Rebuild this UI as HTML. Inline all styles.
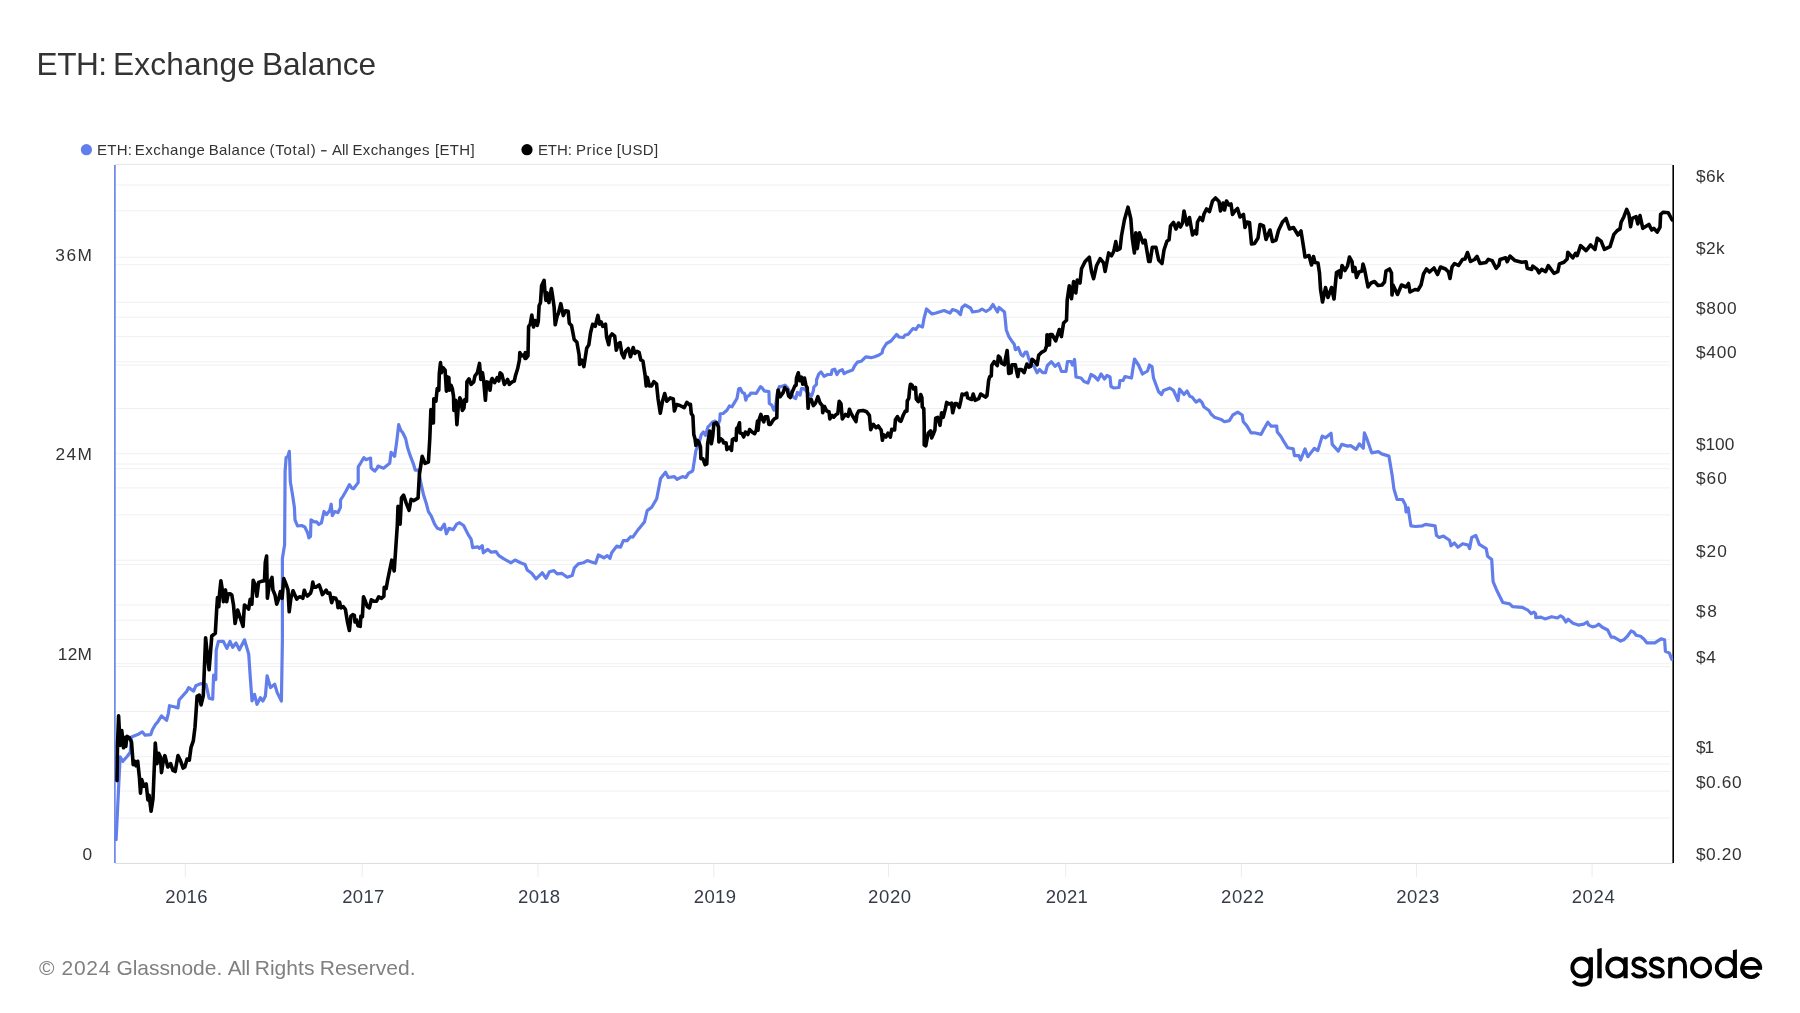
<!DOCTYPE html>
<html><head><meta charset="utf-8"><title>ETH: Exchange Balance</title>
<style>
html,body{margin:0;padding:0;background:#fff;}
body{width:1800px;height:1013px;position:relative;overflow:hidden;font-family:"Liberation Sans",sans-serif;}
</style></head><body>
<svg width="1800" height="1013" viewBox="0 0 1800 1013" style="position:absolute;left:0;top:0;will-change:transform">
<line x1="115" y1="185" x2="1670" y2="185" stroke="#f0f0f0" stroke-width="1"/>
<line x1="115" y1="210.8" x2="1670" y2="210.8" stroke="#f0f0f0" stroke-width="1"/>
<line x1="115" y1="257.2" x2="1670" y2="257.2" stroke="#f0f0f0" stroke-width="1"/>
<line x1="115" y1="264.7" x2="1670" y2="264.7" stroke="#f0f0f0" stroke-width="1"/>
<line x1="115" y1="302.2" x2="1670" y2="302.2" stroke="#f0f0f0" stroke-width="1"/>
<line x1="115" y1="317.2" x2="1670" y2="317.2" stroke="#f0f0f0" stroke-width="1"/>
<line x1="115" y1="336.6" x2="1670" y2="336.6" stroke="#f0f0f0" stroke-width="1"/>
<line x1="115" y1="361.8" x2="1670" y2="361.8" stroke="#f0f0f0" stroke-width="1"/>
<line x1="115" y1="365" x2="1670" y2="365" stroke="#f0f0f0" stroke-width="1"/>
<line x1="115" y1="408.5" x2="1670" y2="408.5" stroke="#f0f0f0" stroke-width="1"/>
<line x1="115" y1="453.7" x2="1670" y2="453.7" stroke="#f0f0f0" stroke-width="1"/>
<line x1="115" y1="464" x2="1670" y2="464" stroke="#f0f0f0" stroke-width="1"/>
<line x1="115" y1="468.7" x2="1670" y2="468.7" stroke="#f0f0f0" stroke-width="1"/>
<line x1="115" y1="487.9" x2="1670" y2="487.9" stroke="#f0f0f0" stroke-width="1"/>
<line x1="115" y1="514.9" x2="1670" y2="514.9" stroke="#f0f0f0" stroke-width="1"/>
<line x1="115" y1="560.2" x2="1670" y2="560.2" stroke="#f0f0f0" stroke-width="1"/>
<line x1="115" y1="564.5" x2="1670" y2="564.5" stroke="#f0f0f0" stroke-width="1"/>
<line x1="115" y1="605" x2="1670" y2="605" stroke="#f0f0f0" stroke-width="1"/>
<line x1="115" y1="620.2" x2="1670" y2="620.2" stroke="#f0f0f0" stroke-width="1"/>
<line x1="115" y1="639.5" x2="1670" y2="639.5" stroke="#f0f0f0" stroke-width="1"/>
<line x1="115" y1="663.7" x2="1670" y2="663.7" stroke="#f0f0f0" stroke-width="1"/>
<line x1="115" y1="666.6" x2="1670" y2="666.6" stroke="#f0f0f0" stroke-width="1"/>
<line x1="115" y1="711.5" x2="1670" y2="711.5" stroke="#f0f0f0" stroke-width="1"/>
<line x1="115" y1="756.6" x2="1670" y2="756.6" stroke="#f0f0f0" stroke-width="1"/>
<line x1="115" y1="764" x2="1670" y2="764" stroke="#f0f0f0" stroke-width="1"/>
<line x1="115" y1="771.4" x2="1670" y2="771.4" stroke="#f0f0f0" stroke-width="1"/>
<line x1="115" y1="791" x2="1670" y2="791" stroke="#f0f0f0" stroke-width="1"/>
<line x1="115" y1="818" x2="1670" y2="818" stroke="#f0f0f0" stroke-width="1"/>
<line x1="115" y1="164.4" x2="1673" y2="164.4" stroke="#e6e6e6" stroke-width="1"/>
<line x1="115" y1="863.4" x2="1673" y2="863.4" stroke="#dcdcdc" stroke-width="1"/>
<line x1="185.3" y1="863.4" x2="185.3" y2="877" stroke="#ececec" stroke-width="1"/>
<line x1="362.2" y1="863.4" x2="362.2" y2="877" stroke="#ececec" stroke-width="1"/>
<line x1="538.0" y1="863.4" x2="538.0" y2="877" stroke="#ececec" stroke-width="1"/>
<line x1="713.8" y1="863.4" x2="713.8" y2="877" stroke="#ececec" stroke-width="1"/>
<line x1="888.5" y1="863.4" x2="888.5" y2="877" stroke="#ececec" stroke-width="1"/>
<line x1="1065.7" y1="863.4" x2="1065.7" y2="877" stroke="#ececec" stroke-width="1"/>
<line x1="1241.4" y1="863.4" x2="1241.4" y2="877" stroke="#ececec" stroke-width="1"/>
<line x1="1416.6" y1="863.4" x2="1416.6" y2="877" stroke="#ececec" stroke-width="1"/>
<line x1="1592.1" y1="863.4" x2="1592.1" y2="877" stroke="#ececec" stroke-width="1"/>
<line x1="114.9" y1="165" x2="114.9" y2="863" stroke="#627eea" stroke-width="1.6"/>
<line x1="1673.2" y1="165" x2="1673.2" y2="863" stroke="#000" stroke-width="1.6"/>
<polyline fill="none" stroke="#627eea" stroke-width="3.2" stroke-linejoin="round" stroke-linecap="round" points="115.9,839.0 116.1,839.6 120.1,756.8 122.9,761.3 126.9,756.8 130.3,752.2 131.5,736.9 137.7,734.6 142.2,731.8 145.1,735.2 150.8,734.6 152.5,729.5 155.9,723.8 157.6,722.1 161.5,715.9 166.6,720.4 168.3,713.6 169.5,705.7 174.0,706.8 178.0,707.9 179.1,700.0 186.9,691.1 188.7,687.6 193.6,691.1 195.8,685.8 201.1,683.6 206.0,684.4 209.1,698.2 212.7,699.1 213.6,675.1 215.8,679.6 216.2,650.2 218.4,641.3 223.3,641.3 226.9,648.4 230.0,641.3 232.7,647.3 236.0,643.0 239.4,649.8 244.5,639.8 248.7,654.0 250.3,677.5 252.0,701.0 254.5,694.3 257.0,704.4 260.4,697.7 262.9,701.0 265.4,696.0 267.1,675.8 270.5,687.6 274.7,684.2 277.2,692.6 281.4,701.0 282.4,640.0 282.4,558.5 284.3,546.6 284.6,545.0 285.1,471.1 286.1,457.6 287.7,456.6 289.3,451.4 289.8,463.8 290.3,481.5 292.4,493.9 294.4,507.4 295.0,519.8 297.5,526.0 301.7,525.5 304.8,527.0 307.4,532.2 308.9,537.9 310.5,536.4 311.0,519.8 314.1,521.9 316.7,521.9 318.8,524.5 321.4,522.9 324.0,511.5 326.6,514.6 329.7,510.5 331.2,504.2 332.3,515.6 334.8,511.5 338.0,512.5 340.5,507.4 340.5,500.1 343.1,496.0 346.2,490.8 349.4,484.6 351.4,487.7 353.5,488.7 356.6,484.6 358.2,482.5 358.2,466.9 360.8,462.8 363.9,457.6 365.9,459.7 370.6,458.1 371.1,468.0 374.7,471.1 377.3,468.0 378.0,466.1 383.5,468.2 389.7,463.3 391.1,452.3 394.6,456.4 396.6,442.6 398.7,424.7 400.8,430.2 402.9,433.0 405.6,438.5 407.7,448.1 410.5,456.4 413.2,463.3 415.3,470.2 418.7,470.2 420.8,482.7 423.6,495.1 426.3,503.4 428.4,511.7 431.2,515.8 434.6,524.1 437.4,528.3 440.8,529.6 444.3,524.1 446.4,533.8 449.1,528.3 453.3,529.6 456.7,524.1 459.5,522.7 463.6,525.5 467.8,533.8 471.2,539.3 472.6,547.6 478.0,546.9 479.4,548.3 482.2,545.6 483.3,552.8 487.8,549.4 491.1,552.2 496.1,551.7 498.9,555.6 503.9,558.9 511.1,562.8 515.0,560.0 520.6,562.8 525.0,564.4 527.2,570.0 531.7,573.3 536.1,578.9 542.2,572.8 546.1,578.3 549.4,571.7 553.9,570.6 557.2,573.9 561.7,573.3 567.2,577.2 572.2,575.6 574.4,567.8 578.3,563.9 583.3,562.8 587.2,560.6 592.2,562.2 595.6,563.3 598.3,555.0 603.9,557.8 607.2,555.6 610.0,558.3 611.7,552.8 616.7,546.1 620.6,547.2 623.3,540.6 627.2,540.6 630.6,536.7 632.8,537.2 638.3,529.4 642.8,523.9 644.4,522.2 647.2,510.6 651.7,507.2 656.7,498.8 660.6,478.4 665.5,472.2 668.2,477.5 674.4,476.6 677.1,479.3 682.4,476.6 686.0,477.5 688.6,473.1 692.2,471.3 692.9,470.0 695.9,450.4 698.4,445.4 701.3,434.5 703.4,432.0 705.5,435.3 708.0,426.9 709.7,425.3 712.7,421.9 715.2,421.1 718.1,424.4 719.8,420.2 720.2,413.9 723.1,413.5 726.9,410.2 729.4,406.0 731.9,406.8 737.0,398.4 738.7,388.8 740.3,388.4 742.4,392.6 744.5,393.4 745.8,400.1 747.0,396.7 749.6,395.1 750.8,393.0 756.3,393.4 758.4,390.0 760.5,386.7 762.1,387.9 764.2,390.9 768.9,391.7 769.3,403.5 771.8,405.1 773.9,410.2 775.6,406.8 777.2,393.4 779.3,386.7 780.6,386.7 785.0,385.2 787.7,387.9 790.3,393.2 793.9,397.6 795.7,398.5 797.4,392.3 800.1,395.0 801.4,388.7 803.7,388.7 805.9,390.5 809.0,394.1 811.6,395.9 813.4,390.5 813.9,387.0 816.5,384.3 816.5,379.9 818.7,374.1 821.0,371.9 824.1,376.3 827.6,374.5 831.2,374.5 832.1,370.1 834.7,369.2 837.0,374.5 839.2,371.0 842.3,369.7 844.1,373.7 847.2,371.9 852.5,370.1 854.7,365.7 857.4,362.1 861.4,361.2 865.8,356.8 871.1,357.7 874.7,356.8 879.1,355.0 882.0,353.0 883.0,349.0 886.5,343.5 891.0,341.0 896.5,334.5 899.0,337.0 903.5,337.5 905.0,335.0 908.0,334.5 913.0,328.5 916.0,329.5 918.5,325.5 922.5,327.0 924.0,318.5 926.5,309.0 932.0,314.0 936.0,313.0 944.0,310.5 950.0,313.0 952.5,309.5 957.0,311.0 960.5,314.5 962.0,307.5 965.0,305.0 970.5,308.0 972.5,312.0 979.0,311.0 982.0,309.0 986.0,311.5 990.0,309.0 993.0,304.5 997.5,312.0 999.0,307.5 1004.5,312.0 1006.3,330.0 1008.7,336.3 1011.9,341.1 1014.2,344.2 1015.4,349.7 1018.2,347.4 1021.0,354.5 1022.9,356.1 1025.3,352.1 1026.9,352.1 1028.5,357.6 1030.8,364.0 1034.0,366.3 1037.1,372.7 1039.5,369.5 1042.7,372.7 1045.4,372.7 1047.4,365.5 1051.4,361.6 1055.0,366.3 1055.5,366.0 1058.5,363.5 1061.5,371.5 1066.0,371.5 1067.5,361.5 1071.0,361.5 1072.5,365.0 1074.5,359.5 1076.0,377.0 1081.0,378.0 1084.0,381.5 1088.0,383.0 1091.0,374.5 1094.5,376.5 1098.0,380.0 1101.0,374.0 1104.5,379.0 1107.0,375.5 1110.0,377.0 1111.0,386.5 1114.0,388.0 1119.0,387.5 1120.0,380.5 1123.0,380.5 1125.0,376.5 1131.5,378.0 1133.0,368.0 1134.5,359.0 1138.5,365.0 1142.5,374.0 1147.5,371.0 1149.5,365.0 1152.0,366.5 1153.5,378.0 1158.5,391.5 1161.5,394.5 1163.5,390.5 1170.0,388.0 1173.5,390.5 1178.0,400.5 1179.5,389.0 1184.0,394.5 1187.0,391.0 1190.0,396.5 1192.0,397.0 1196.0,402.0 1199.5,400.0 1202.0,402.5 1204.0,407.0 1209.0,410.5 1211.0,414.0 1214.4,417.2 1221.1,419.4 1224.4,421.7 1229.4,420.6 1232.8,415.0 1237.8,412.2 1242.2,415.0 1243.3,421.7 1246.7,425.6 1251.1,432.8 1254.4,432.8 1261.1,434.4 1263.3,430.0 1267.8,422.2 1271.1,426.1 1276.7,426.1 1277.2,431.7 1281.1,436.7 1283.9,441.7 1287.8,447.8 1293.3,448.9 1294.4,455.6 1298.9,455.6 1300.6,460.0 1305.0,448.9 1307.8,456.7 1314.4,448.3 1317.8,450.6 1322.2,436.1 1325.6,437.8 1331.1,433.3 1332.2,444.4 1338.3,451.1 1341.7,444.4 1347.8,446.1 1350.6,445.6 1356.1,449.4 1359.4,443.9 1363.3,448.3 1364.4,432.8 1366.7,438.3 1371.7,452.8 1378.3,451.7 1381.7,453.9 1388.9,456.1 1392.2,475.6 1393.9,488.9 1396.7,498.3 1397.1,499.5 1402.6,499.5 1405.4,505.0 1406.1,512.0 1408.1,507.8 1410.9,525.8 1415.7,526.5 1422.6,525.8 1425.4,524.4 1435.1,525.8 1436.5,535.4 1439.2,537.5 1443.4,536.1 1449.6,540.3 1451.0,545.8 1454.4,543.0 1457.9,547.2 1462.7,543.7 1468.2,545.1 1469.6,548.6 1471.7,537.5 1475.8,535.4 1479.3,544.4 1486.2,548.6 1487.6,556.2 1491.7,559.6 1493.1,581.7 1496.6,590.0 1502.8,602.5 1509.7,603.9 1512.5,606.6 1522.1,607.3 1526.3,609.4 1527.7,610.0 1531.2,613.6 1533.9,612.2 1535.7,614.0 1535.7,617.6 1541.0,617.1 1545.0,618.9 1551.7,616.7 1557.4,618.0 1560.6,615.8 1563.2,617.6 1565.9,622.0 1568.1,619.3 1573.0,623.3 1578.3,625.1 1583.7,624.2 1587.2,622.0 1588.6,625.1 1592.6,626.9 1596.1,626.0 1598.8,624.2 1602.3,627.3 1607.7,630.0 1611.2,637.1 1613.9,637.1 1620.6,641.1 1623.7,639.8 1627.7,635.8 1631.2,630.9 1633.9,632.2 1636.1,635.3 1640.6,636.2 1644.1,639.3 1646.8,642.9 1654.8,642.9 1661.0,638.9 1664.6,639.8 1665.4,651.3 1669.4,653.1 1671.7,659.3"/>
<polyline fill="none" stroke="#000" stroke-width="3.6" stroke-linejoin="round" stroke-linecap="round" points="117.0,780.6 117.5,745.4 118.6,715.9 120.1,745.4 121.8,730.6 123.5,747.7 124.6,737.5 125.8,746.5 126.9,736.3 129.2,737.5 131.5,742.0 133.2,764.7 134.9,761.3 136.0,765.8 137.7,761.3 139.4,777.2 140.5,793.1 141.7,779.5 143.9,786.3 146.2,784.0 147.9,799.9 149.1,795.3 151.1,811.2 153.0,798.8 155.3,743.1 157.0,763.6 158.7,753.3 160.4,756.8 161.5,772.6 163.2,761.3 164.9,755.6 167.8,767.0 170.6,763.6 172.9,770.4 175.2,771.5 178.0,755.6 180.3,760.2 183.1,768.1 184.8,767.0 187.1,759.0 189.3,760.2 191.0,747.7 193.3,740.9 195.0,727.2 196.2,710.0 197.1,696.4 199.3,695.1 201.1,704.9 203.3,695.6 205.6,637.8 207.6,657.4 209.1,669.8 211.8,636.0 215.3,633.3 215.4,631.9 216.7,609.2 217.5,597.5 218.8,606.7 219.6,593.3 220.9,580.7 222.1,588.3 223.4,601.7 225.5,589.9 226.7,601.7 228.0,594.1 230.1,593.7 231.8,595.0 233.5,605.0 235.1,623.5 237.7,610.1 240.2,617.6 243.1,626.4 244.4,605.0 246.5,606.7 248.6,609.2 250.2,599.2 251.9,604.2 253.2,580.3 255.3,584.9 256.9,596.2 258.6,582.4 262.0,581.1 264.5,580.7 265.3,562.3 266.6,556.0 267.4,598.3 269.5,583.2 272.0,577.4 272.9,589.9 275.0,595.0 276.7,604.2 278.8,598.3 280.4,591.6 282.1,598.3 283.8,578.6 286.3,584.9 288.0,589.9 289.2,611.8 290.9,598.3 293.0,590.8 296.8,599.2 298.0,597.6 300.2,596.8 302.8,598.3 304.3,590.2 305.4,593.1 307.3,596.1 310.6,593.1 311.7,589.4 312.8,582.0 313.9,587.2 315.8,587.2 319.1,585.0 320.6,588.7 322.4,594.6 326.1,590.2 327.6,593.1 329.8,593.1 330.9,599.0 331.7,602.7 333.5,597.6 335.7,598.3 337.2,601.3 338.0,607.6 339.5,602.0 340.9,607.9 343.2,606.5 345.4,609.4 346.5,616.1 347.6,622.7 349.4,630.5 350.9,616.1 352.8,614.6 354.3,615.3 355.0,622.0 356.5,619.8 358.0,625.7 360.2,626.4 360.9,616.1 362.4,616.8 363.5,596.8 365.4,601.3 367.2,606.5 369.4,607.9 371.3,599.8 374.2,601.3 376.5,601.3 378.7,596.8 381.6,598.3 383.9,596.1 384.2,587.2 386.1,588.7 388.0,578.3 391.8,560.2 394.2,571.0 395.3,554.9 397.3,525.5 398.0,506.2 400.1,524.1 401.5,497.9 403.6,495.1 406.3,503.4 409.1,510.3 411.1,499.3 413.9,500.6 418.1,497.9 419.4,474.4 422.2,456.4 425.0,463.3 428.4,462.0 429.8,438.5 430.9,409.6 431.2,421.9 432.1,423.0 433.4,423.0 433.8,398.7 435.9,401.2 436.7,393.6 437.2,388.6 438.8,390.3 439.3,373.5 440.5,362.6 441.4,372.7 443.0,367.6 445.1,370.1 446.4,391.1 447.2,376.8 448.9,377.7 449.3,390.3 451.0,385.2 452.3,388.6 453.5,396.1 453.9,410.4 455.6,400.3 456.9,424.7 458.1,408.7 459.8,397.8 461.1,400.3 462.3,410.4 464.0,407.9 464.8,399.5 466.5,401.2 466.9,381.9 469.0,378.9 471.1,384.4 473.7,381.9 474.9,376.0 477.4,372.7 479.5,363.4 480.8,379.4 482.5,372.7 483.7,381.0 485.4,400.3 486.7,381.9 488.8,382.7 490.0,390.3 491.3,380.2 492.1,378.5 494.6,382.7 497.1,377.7 498.8,381.0 500.1,372.7 501.8,374.3 504.3,384.4 507.6,379.4 509.3,384.4 512.2,381.9 514.3,381.0 515.6,375.2 517.7,368.5 519.4,360.1 519.8,352.5 521.5,355.9 523.6,355.0 525.0,358.4 525.3,352.5 525.9,358.5 528.0,355.8 528.6,326.5 530.2,324.3 531.8,315.1 533.5,327.0 535.1,320.5 537.3,325.4 538.3,321.0 539.1,305.8 540.5,302.6 541.6,285.7 544.1,280.3 544.9,291.7 545.9,300.4 547.0,292.8 548.9,302.6 551.4,288.5 552.5,295.5 554.1,306.9 555.2,324.8 557.3,315.6 558.4,313.4 560.8,303.7 563.3,315.6 565.5,310.7 568.2,311.3 569.3,323.2 571.5,325.4 574.2,339.5 576.9,342.2 579.1,354.7 579.6,364.5 581.8,360.1 583.9,366.6 586.7,348.2 588.8,344.9 590.5,333.0 592.6,324.3 595.2,326.3 597.9,315.4 599.5,324.1 601.1,321.9 602.8,326.3 605.5,324.1 606.6,337.1 608.7,344.7 609.8,337.1 612.0,333.9 614.7,336.1 616.3,350.2 618.5,343.7 620.1,342.6 621.8,353.4 623.9,357.8 625.6,351.3 628.3,348.5 630.5,356.7 633.2,347.5 634.8,353.4 637.0,351.3 639.1,352.3 640.8,359.9 642.9,361.0 645.1,375.1 646.2,386.0 647.3,377.3 649.5,386.0 651.6,386.0 653.8,381.7 656.5,383.8 658.1,399.0 660.3,413.1 662.5,401.2 664.7,393.6 666.8,401.2 670.1,397.9 673.3,399.0 674.4,411.0 676.6,404.5 679.9,405.5 684.2,407.7 686.9,402.3 690.2,405.5 690.4,404.3 691.3,413.5 692.9,416.0 693.8,434.5 695.0,438.7 695.9,445.4 697.6,440.4 699.2,442.9 700.5,447.1 700.9,458.8 703.0,458.8 705.1,464.7 706.8,463.9 707.6,443.7 709.7,431.1 711.4,443.7 712.7,436.2 713.9,423.6 716.4,422.8 718.5,426.9 718.9,442.0 720.6,438.7 722.7,440.4 723.6,442.9 726.1,442.9 726.9,449.6 729.4,447.1 731.5,450.4 732.4,439.5 734.0,438.7 736.1,440.4 736.6,428.6 738.2,426.9 739.5,422.8 739.9,432.8 742.0,433.7 743.7,437.0 745.4,432.0 747.9,434.5 749.6,429.5 752.1,432.0 754.6,433.7 756.3,430.3 757.5,421.1 758.0,430.3 759.2,419.4 760.9,414.4 762.1,418.6 763.8,421.9 765.1,416.9 767.6,416.9 768.9,424.4 770.5,424.4 773.1,420.2 774.7,418.6 776.8,417.7 777.2,400.1 778.1,390.0 780.2,396.7 783.1,392.6 784.8,387.5 785.0,388.7 787.2,389.6 788.6,395.9 790.3,397.6 792.1,392.3 794.8,386.1 796.1,385.2 796.5,378.1 798.3,372.8 799.7,380.8 801.4,377.2 802.8,384.3 804.5,378.1 805.9,385.2 807.2,387.9 808.1,408.3 809.0,399.4 811.2,399.4 813.4,405.6 815.6,403.0 817.9,396.7 820.1,403.0 822.3,405.6 822.7,412.7 824.5,406.5 826.7,411.0 829.0,411.8 829.8,418.9 832.1,415.4 833.8,417.2 836.1,414.5 837.8,413.6 839.2,401.2 841.0,403.8 842.3,418.9 845.4,414.5 848.1,416.3 849.4,409.2 851.2,413.6 853.4,417.2 856.0,421.6 856.9,414.5 858.7,411.0 863.2,410.5 866.7,411.8 869.4,415.4 870.7,429.6 873.4,424.3 876.0,427.8 878.3,426.0 880.0,428.5 881.2,430.0 882.4,440.3 883.6,434.8 885.9,437.1 887.9,433.2 890.3,437.1 891.8,429.2 894.6,430.0 895.4,419.8 897.4,416.6 899.4,420.6 900.9,421.3 903.3,415.0 905.3,411.1 906.9,411.1 907.3,400.8 908.8,398.4 909.6,389.7 910.4,384.2 912.0,385.0 913.6,389.0 915.5,387.4 916.3,399.2 918.3,401.6 919.5,399.2 920.7,394.5 921.9,397.6 922.3,407.1 923.8,408.7 924.2,425.3 924.2,445.0 925.8,445.8 927.4,437.1 928.2,433.2 930.6,430.8 931.7,437.9 933.7,433.2 934.9,430.0 935.7,418.2 937.7,417.4 940.0,425.3 941.6,412.7 943.2,417.4 945.6,407.9 946.7,402.4 948.7,404.0 951.5,403.2 952.7,412.7 955.0,403.5 956.6,403.5 959.3,407.4 960.9,400.3 962.1,394.0 963.7,394.8 966.8,393.2 967.6,397.9 971.6,399.5 973.2,394.0 975.1,400.3 978.7,398.7 980.7,394.0 985.4,397.1 987.0,395.6 988.6,380.6 989.8,376.6 991.3,375.8 991.7,365.5 994.1,361.6 997.3,365.5 998.4,356.1 1000.0,357.6 1001.6,363.2 1004.4,364.8 1005.2,360.0 1007.1,350.5 1007.9,360.0 1008.7,373.4 1011.1,372.7 1011.9,364.8 1015.4,364.8 1016.6,371.1 1017.8,376.6 1019.0,369.5 1021.4,369.5 1024.1,372.7 1026.9,364.0 1028.9,367.1 1030.8,366.3 1032.0,359.2 1034.8,361.6 1037.1,364.8 1038.7,355.3 1041.9,352.1 1045.0,350.5 1046.6,345.8 1047.0,334.7 1048.6,338.7 1049.4,345.0 1050.0,334.5 1052.1,334.5 1055.7,340.9 1059.3,329.5 1061.4,336.6 1063.6,323.0 1066.5,320.2 1067.2,300.1 1069.3,285.8 1071.5,298.7 1073.6,281.5 1075.8,293.0 1077.2,280.1 1080.0,283.0 1081.5,268.7 1085.1,261.5 1089.3,257.2 1091.5,271.5 1093.6,278.7 1096.5,265.8 1100.1,258.7 1103.6,262.9 1105.1,271.5 1108.7,252.9 1111.5,255.8 1113.7,251.5 1115.8,241.5 1117.2,250.1 1120.1,248.6 1121.5,235.8 1124.4,220.0 1128.0,207.2 1130.8,218.6 1132.3,238.6 1134.4,252.9 1135.8,232.9 1137.3,248.6 1139.4,232.9 1143.0,242.9 1145.1,240.1 1148.7,261.5 1150.1,261.5 1152.3,247.2 1155.9,247.2 1158.7,260.1 1162.0,263.5 1164.0,250.0 1167.0,241.0 1169.0,240.0 1170.5,226.0 1173.5,222.5 1176.0,229.0 1178.5,223.0 1180.5,227.0 1182.5,223.0 1184.0,211.0 1187.0,225.0 1189.5,217.5 1192.5,235.0 1195.0,231.0 1196.5,234.0 1197.5,222.0 1200.0,217.5 1202.5,220.5 1204.0,214.0 1206.5,209.0 1209.5,211.5 1212.5,201.0 1215.5,198.0 1219.0,201.5 1220.5,211.0 1223.0,203.0 1224.5,210.0 1226.5,201.0 1229.0,205.0 1231.0,204.0 1232.5,214.5 1235.0,211.0 1237.5,208.5 1240.0,217.0 1243.5,214.5 1245.0,227.5 1247.0,222.0 1249.5,222.5 1251.5,244.0 1254.5,243.5 1258.0,238.0 1260.0,224.5 1263.5,226.0 1266.0,239.5 1270.0,230.0 1272.5,241.5 1276.0,240.0 1278.5,230.5 1282.5,222.0 1286.0,218.5 1289.5,229.0 1293.5,227.5 1298.0,235.0 1301.0,231.0 1304.0,250.0 1305.0,257.0 1309.0,255.5 1311.5,265.0 1313.5,256.5 1315.0,262.5 1318.0,263.0 1319.5,273.0 1320.5,289.0 1322.5,302.0 1324.0,295.0 1325.5,287.5 1328.0,297.5 1331.5,287.5 1334.0,299.0 1336.5,272.5 1339.0,271.0 1340.5,277.5 1342.0,265.5 1345.0,270.5 1347.5,266.0 1349.5,257.0 1352.0,261.5 1353.0,271.5 1355.0,267.5 1356.5,277.5 1359.0,272.0 1362.0,271.0 1363.0,264.0 1364.5,269.0 1368.0,287.0 1371.0,283.0 1374.5,281.5 1378.0,285.5 1382.0,285.0 1384.5,282.0 1386.0,271.0 1389.5,269.0 1391.5,273.0 1392.0,295.0 1393.0,285.0 1397.5,294.5 1401.5,285.0 1406.0,287.0 1408.5,283.5 1410.0,292.0 1415.0,289.5 1418.0,290.0 1421.0,285.0 1423.5,274.0 1426.5,269.0 1429.5,272.0 1434.0,268.0 1437.5,274.5 1440.5,267.0 1445.5,269.0 1448.5,272.0 1450.0,278.5 1452.0,267.0 1454.5,263.5 1458.5,265.5 1462.5,259.5 1465.0,259.0 1467.5,252.5 1470.5,261.5 1474.5,259.5 1477.0,256.5 1480.0,263.5 1486.0,262.5 1488.3,259.4 1492.2,260.6 1496.1,268.3 1498.9,265.0 1500.0,259.4 1505.6,257.8 1507.2,261.7 1510.0,256.1 1515.0,260.6 1521.7,262.2 1526.1,261.7 1527.2,268.3 1531.7,269.4 1532.8,266.1 1537.2,269.4 1538.9,272.8 1541.7,269.4 1545.6,271.7 1548.3,265.6 1553.9,273.3 1557.8,271.7 1559.4,263.9 1563.9,262.2 1567.2,258.9 1567.8,252.2 1572.8,257.8 1575.6,253.3 1577.2,255.6 1580.6,245.6 1586.1,250.6 1590.6,245.0 1595.0,249.4 1597.2,238.3 1601.1,241.1 1604.4,249.4 1610.0,246.7 1613.9,234.4 1617.2,230.6 1620.0,228.9 1621.1,222.2 1623.9,216.7 1626.7,209.4 1628.9,214.4 1630.6,226.7 1632.2,218.3 1636.1,216.7 1637.8,223.9 1640.0,215.6 1642.8,228.3 1648.9,224.4 1651.7,230.0 1653.9,228.3 1657.2,232.2 1660.0,227.2 1660.6,214.4 1663.3,212.2 1668.3,212.8 1672.2,220.0"/>
<circle cx="86.4" cy="149.7" r="5.6" fill="#627eea"/>
<circle cx="527" cy="149.7" r="5.6" fill="#000"/>
<g id="title" font-family="Liberation Sans, sans-serif" font-size="31.6" fill="#333"><text x="36.6" y="74.8" letter-spacing="-0.53">ETH:</text><text x="112.9" y="74.8" letter-spacing="0.21">Exchange</text><text x="262" y="74.8">Balance</text></g>
<g id="leg1" font-family="Liberation Sans, sans-serif" font-size="15" fill="#333"><text x="97.0" y="154.8" letter-spacing="0.267">ETH:</text><text x="134.8" y="154.8" letter-spacing="0.486">Exchange</text><text x="208.7" y="154.8" letter-spacing="0.417">Balance</text><text x="269.4" y="154.8" letter-spacing="0.767">(Total)</text><text x="332.1" y="154.8" letter-spacing="-0.05">All</text><text x="352.5" y="154.8" letter-spacing="0.35">Exchanges</text><text x="435.0" y="154.8" letter-spacing="0.325">[ETH]</text></g>
<rect x="321.1" y="150.1" width="5.5" height="1.35" fill="#333"/>
<g id="leg2" font-family="Liberation Sans, sans-serif" font-size="15" fill="#333"><text x="537.9" y="154.8" letter-spacing="-0.033">ETH:</text><text x="576.0" y="154.8" letter-spacing="0.575">Price</text><text x="616.7" y="154.8" letter-spacing="0.35">[USD]</text></g>
<text x="93.55" y="260.8" font-family="Liberation Sans, sans-serif" font-size="17.3" letter-spacing="1.55" fill="#333" text-anchor="end">36M</text>
<text x="93.45" y="460.4" font-family="Liberation Sans, sans-serif" font-size="17.3" letter-spacing="1.45" fill="#333" text-anchor="end">24M</text>
<text x="92.30" y="660.0" font-family="Liberation Sans, sans-serif" font-size="17.3" letter-spacing="0.3" fill="#333" text-anchor="end">12M</text>
<text x="92.00" y="859.8" font-family="Liberation Sans, sans-serif" font-size="17.3" letter-spacing="0" fill="#333" text-anchor="end">0</text>
<text x="1695.9" y="181.5" font-family="Liberation Sans, sans-serif" font-size="17.3" letter-spacing="0.4" fill="#333">$6k</text>
<text x="1695.9" y="253.7" font-family="Liberation Sans, sans-serif" font-size="17.3" letter-spacing="0.4" fill="#333">$2k</text>
<text x="1695.9" y="313.7" font-family="Liberation Sans, sans-serif" font-size="17.3" letter-spacing="0.8" fill="#333">$800</text>
<text x="1695.9" y="358.3" font-family="Liberation Sans, sans-serif" font-size="17.3" letter-spacing="0.8" fill="#333">$400</text>
<text x="1695.9" y="450.2" font-family="Liberation Sans, sans-serif" font-size="17.3" letter-spacing="0.0" fill="#333">$100</text>
<text x="1695.9" y="484.4" font-family="Liberation Sans, sans-serif" font-size="17.3" letter-spacing="1.1" fill="#333">$60</text>
<text x="1695.9" y="556.7" font-family="Liberation Sans, sans-serif" font-size="17.3" letter-spacing="1.1" fill="#333">$20</text>
<text x="1695.9" y="616.7" font-family="Liberation Sans, sans-serif" font-size="17.3" letter-spacing="1.8" fill="#333">$8</text>
<text x="1695.9" y="663.1" font-family="Liberation Sans, sans-serif" font-size="17.3" letter-spacing="0.8" fill="#333">$4</text>
<text x="1695.9" y="753.1" font-family="Liberation Sans, sans-serif" font-size="17.3" letter-spacing="-1.1" fill="#333">$1</text>
<text x="1695.9" y="787.5" font-family="Liberation Sans, sans-serif" font-size="17.3" letter-spacing="0.62" fill="#333">$0.60</text>
<text x="1695.9" y="859.6" font-family="Liberation Sans, sans-serif" font-size="17.3" letter-spacing="0.62" fill="#333">$0.20</text>
<text x="186.55" y="902.9" font-family="Liberation Sans, sans-serif" font-size="18.5" letter-spacing="0.3" fill="#353b48" text-anchor="middle">2016</text>
<text x="363.45" y="902.9" font-family="Liberation Sans, sans-serif" font-size="18.5" letter-spacing="0.3" fill="#353b48" text-anchor="middle">2017</text>
<text x="539.25" y="902.9" font-family="Liberation Sans, sans-serif" font-size="18.5" letter-spacing="0.3" fill="#353b48" text-anchor="middle">2018</text>
<text x="715.05" y="902.9" font-family="Liberation Sans, sans-serif" font-size="18.5" letter-spacing="0.3" fill="#353b48" text-anchor="middle">2019</text>
<text x="889.90" y="902.9" font-family="Liberation Sans, sans-serif" font-size="18.5" letter-spacing="0.6" fill="#353b48" text-anchor="middle">2020</text>
<text x="1066.95" y="902.9" font-family="Liberation Sans, sans-serif" font-size="18.5" letter-spacing="0.3" fill="#353b48" text-anchor="middle">2021</text>
<text x="1242.80" y="902.9" font-family="Liberation Sans, sans-serif" font-size="18.5" letter-spacing="0.6" fill="#353b48" text-anchor="middle">2022</text>
<text x="1418.00" y="902.9" font-family="Liberation Sans, sans-serif" font-size="18.5" letter-spacing="0.6" fill="#353b48" text-anchor="middle">2023</text>
<text x="1593.50" y="902.9" font-family="Liberation Sans, sans-serif" font-size="18.5" letter-spacing="0.6" fill="#353b48" text-anchor="middle">2024</text>
<g id="foot" font-family="Liberation Sans, sans-serif" font-size="21" fill="#808080"><text x="38.9" y="974.9" letter-spacing="0.0">©</text><text x="61.6" y="974.9" letter-spacing="0.7">2024</text><text x="116.4" y="974.9" letter-spacing="-0.044">Glassnode.</text><text x="227.8" y="974.9" letter-spacing="-0.45">All</text><text x="254.7" y="974.9" letter-spacing="0.04">Rights</text><text x="319.7" y="974.9" letter-spacing="0.025">Reserved.</text></g>
<g id="logo" fill="none" stroke="#000" stroke-width="3.9">
<circle cx="1581.4" cy="967.55" r="9.05"/>
<path d="M1590.75,958 L1590.75,977.5 C1590.75,982.6 1586.6,984.75 1581.6,984.75 C1577.6,984.75 1574.9,983.3 1573.4,981.0"/>
<circle cx="1616.3" cy="967.55" r="9.05"/>
<path d="M1645.30,962.30 C1644.20,960.00 1641.90,958.50 1639.10,958.50 C1635.60,958.50 1633.40,960.50 1633.40,963.10 C1633.40,966.20 1636.20,967.00 1639.20,967.80 C1642.60,968.70 1645.40,969.60 1645.40,972.80 C1645.40,975.20 1643.00,976.60 1639.40,976.60 C1636.20,976.60 1633.60,975.00 1632.60,972.80"/>
<path d="M1662.80,962.30 C1661.70,960.00 1659.40,958.50 1656.60,958.50 C1653.10,958.50 1650.90,960.50 1650.90,963.10 C1650.90,966.20 1653.70,967.00 1656.70,967.80 C1660.10,968.70 1662.90,969.60 1662.90,972.80 C1662.90,975.20 1660.50,976.60 1656.90,976.60 C1653.70,976.60 1651.10,975.00 1650.10,972.80"/>
<path d="M1670.25,967.5 C1670.25,961.6 1673.9,958.5 1678.3,958.5 C1682.6,958.5 1685,961.6 1685,966 L1685,978.2"/>
<circle cx="1701.05" cy="967.55" r="9.05"/>
<circle cx="1725.85" cy="967.55" r="9.05"/>
<path d="M1760.2,967.9 A9.05,9.05 0 1 0 1758.6,973.2"/>
</g>
<g fill="#000">
<polygon points="1588.8,957.6 1592.7,956.9 1592.7,978 1588.8,978"/>
<polygon points="1597.3,949.1 1601.7,947.9 1601.7,978.2 1597.3,978.2"/>
<polygon points="1623.5,957.6 1627.7,956.9 1627.7,978.2 1623.5,978.2"/>
<polygon points="1668.2,957.9 1672.3,957.2 1672.3,978.2 1668.2,978.2"/>
<polygon points="1732.9,950.2 1736.9,949.3 1736.9,977.9 1732.9,977.9"/>
<rect x="1741.8" y="966.0" width="20.3" height="3.8"/>
</g>
</svg>
</body></html>
